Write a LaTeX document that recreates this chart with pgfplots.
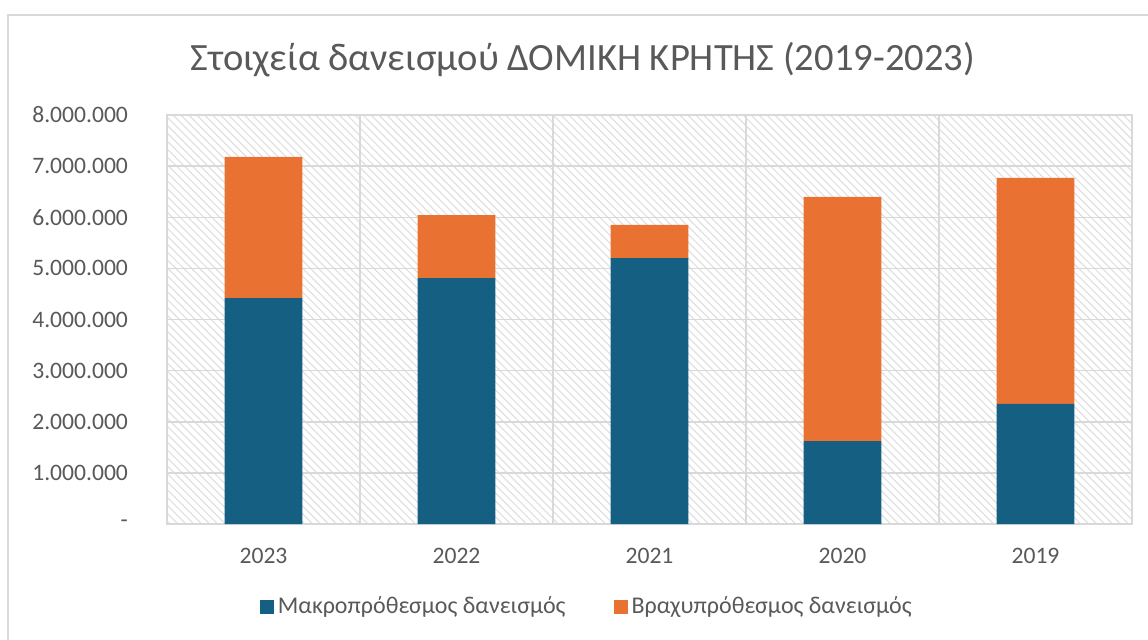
\documentclass[border=0pt]{standalone}
\usepackage{fontspec}
\setmainfont{Carlito}
\usepackage{pgfplots}
\pgfplotsset{compat=1.18}
\usetikzlibrary{patterns.meta}
\definecolor{longterm}{HTML}{156082}
\definecolor{shortterm}{HTML}{E97132}
\definecolor{gridgray}{HTML}{D9D9D9}
\definecolor{textgray}{HTML}{595959}
\definecolor{hatchgray}{HTML}{E0E0E0}

\begin{document}
\begin{tikzpicture}
\useasboundingbox (0,0) rectangle (574pt,-319.5pt);
% chart frame (right and bottom edges fall outside the crop)
\draw[gridgray, line width=0.8pt] (4pt,-340pt) -- (4pt,-7.5pt) -- (600pt,-7.5pt);
\node[text=textgray, font=\fontsize{19.3pt}{23pt}\selectfont] at (291.5pt,-30pt)
  {Στοιχεία δανεισμού ΔΟΜΙΚΗ ΚΡΗΤΗΣ (2019-2023)};
\begin{axis}[
    at={(83.5pt,-262pt)}, anchor=south west,
    scale only axis, width=482.5pt, height=204.5pt,
    ybar stacked, bar width=0.404,
    xmin=-0.5, xmax=4.5, ymin=0, ymax=8000000,
    xtick={0,1,2,3,4},
    xticklabels={2023,2022,2021,2020,2019},
    minor xtick={-0.5,0.5,1.5,2.5,3.5,4.5},
    xminorgrids=true,
    ytick={0,1000000,2000000,3000000,4000000,5000000,6000000,7000000,8000000},
    yticklabels={{-\hspace{5.5pt}},1.000.000,2.000.000,3.000.000,4.000.000,5.000.000,6.000.000,7.000.000,8.000.000},
    scaled y ticks=false,
    ymajorgrids=true,
    major grid style={gridgray, line width=0.75pt},
    minor grid style={gridgray, line width=0.75pt},
    major tick length=0pt, minor tick length=0pt,
    axis line style={gridgray, line width=0.75pt},
    axis background/.style={pattern={Lines[angle=-45,distance=2.8pt,line width=0.6pt]}, pattern color=hatchgray},
    tick label style={font=\fontsize{11.8pt}{14pt}\selectfont, text=textgray},
    /pgf/number format/assume math mode=true,
    yticklabel style={anchor=east, xshift=-16pt},
    xticklabel style={anchor=center, yshift=-16pt},
    legend image code/.code={\fill[#1] (0pt,-3.5pt) rectangle (7pt,3.5pt);},
    legend style={at={(0.436,-0.203)}, anchor=center, draw=none, fill=none,
      font=\fontsize{12pt}{14pt}\selectfont, text=textgray,
      /tikz/every even column/.append style={column sep=22pt}},
    legend columns=2,
    legend cell align=left,
]
\addplot[fill=longterm, draw=none] coordinates {
    (0,4420000) (1,4810000) (2,5200000) (3,1620000) (4,2350000)
};
\addlegendentry{Μακροπρόθεσμος δανεισμός}
\addplot[fill=shortterm, draw=none] coordinates {
    (0,2760000) (1,1230000) (2,650000) (3,4780000) (4,4420000)
};
\addlegendentry{Βραχυπρόθεσμος δανεισμός}
\end{axis}
\end{tikzpicture}
\end{document}
